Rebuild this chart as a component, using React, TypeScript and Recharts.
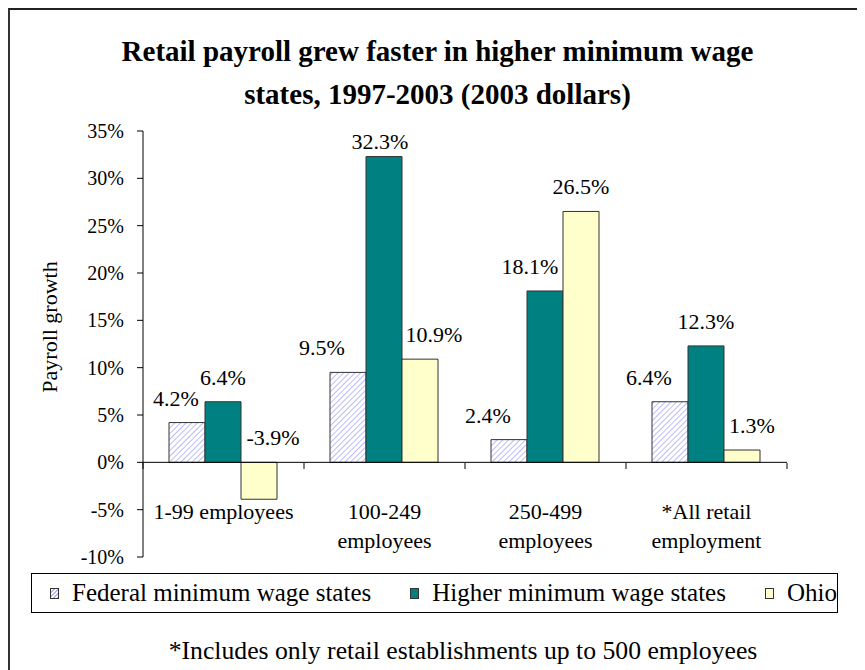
import React from 'react'
import { BarChart, Bar, XAxis, YAxis, ReferenceLine } from 'recharts'

const title = ['Retail payroll grew faster in higher minimum wage', 'states, 1997-2003 (2003 dollars)']
const categories = [['1-99 employees'], ['100-249', 'employees'], ['250-499', 'employees'], ['*All retail', 'employment']]
const federal = [4.2, 9.5, 2.4, 6.4]
const higher = [6.4, 32.3, 18.1, 12.3]
const ohio = [-3.9, 10.9, 26.5, 1.3]
const yTicks = [-10, -5, 0, 5, 10, 15, 20, 25, 30, 35]
const seriesNames = ['Federal minimum wage states', 'Higher minimum wage states', 'Ohio']
const yLabel = 'Payroll growth'
const footnote = '*Includes only retail establishments up to 500 employees'

const font = 'Liberation Serif, Times New Roman, Times, serif'
const teal = '#008080'
const cream = '#FFFFCC'
const hatch = '#b4b4f8'

// excel slides crowded labels sideways; horizontal nudge in px per bar
const federalNudge = [-11, -26, -21, -21]
const higherNudge = [0, -4, -15, 0]
const ohioNudge = [14, 14, 0, 10]

const data = categories.map((lines, i) => ({
  name: lines.join(' '),
  lines,
  federal: federal[i],
  higher: higher[i],
  ohio: ohio[i],
}))

const yMax = yTicks[yTicks.length - 1]

const makeLabel = (nudge: number[]) => (props: any) => {
  const vb = props.viewBox ?? props
  const { x, y, width, height } = vb
  const value = Number(props.value)
  const top = Math.min(y, y + height)
  let base = top - 17
  if (value > 0) {
    // keep label inside the plot, like excel does
    const ppu = Math.abs(height) / Math.abs(value)
    const zero = Math.max(y, y + height)
    const plotTop = zero - yMax * ppu
    base = Math.max(base, plotTop + 18)
  }
  const dx = nudge[props.index] ?? 0
  return (
    <text x={x + width / 2 + dx} y={base} textAnchor="middle" style={{ fontSize: 22, fontFamily: font }} fill="#000">
      {value.toFixed(1)}%
    </text>
  )
}

const CatTick = (props: any) => {
  const { x, y, payload, index } = props
  const row = data.find(d => d.name === payload.value)
  const lines = row ? row.lines : [payload.value]
  const half = payload.offset ?? 0
  const zeroY = y - 94
  return (
    <g>
      <line x1={x - half} x2={x - half} y1={zeroY} y2={zeroY + 6} stroke="#000" />
      {index === data.length - 1 && (
        <line x1={x + half} x2={x + half} y1={zeroY} y2={zeroY + 6} stroke="#000" />
      )}
      <text x={x} y={y - 38} textAnchor="middle" style={{ fontSize: 22, fontFamily: font }} fill="#000">
        {lines.map((l, i) => (
          <tspan key={i} x={x} dy={i === 0 ? 0 : 29}>{l}</tspan>
        ))}
      </text>
    </g>
  )
}

const swatch = (i: number) => {
  const base: React.CSSProperties = { width: 9, height: 11, border: '1px solid #333', display: 'inline-block', marginRight: 13, boxSizing: 'border-box', flex: 'none' }
  if (i === 0) return { ...base, background: `repeating-linear-gradient(135deg, #fff 0 1.5px, ${hatch} 1.5px 3px)` }
  if (i === 1) return { ...base, background: teal }
  return { ...base, background: cream }
}

export default function App() {
  return (
    <div style={{ position: 'relative', width: 855, height: 660, borderTop: '2px solid #222', borderLeft: '2px solid #333', fontFamily: font, color: '#000' }}>
      <div style={{ position: 'absolute', left: 0, top: 20, width: 855, textAlign: 'center', fontWeight: 'bold', fontSize: 29, lineHeight: '43px' }}>
        {title.map((t, i) => <div key={i}>{t}</div>)}
      </div>
      <div style={{ position: 'absolute', left: 40, top: 317, transform: 'translate(-50%, -50%) rotate(-90deg)', fontSize: 22, whiteSpace: 'nowrap' }}>
        {yLabel}
      </div>
      <div style={{ position: 'absolute', left: 0, top: 0 }}>
        <BarChart width={855} height={652} data={data} margin={{ top: 121, right: 78, left: 0, bottom: 75 }} barCategoryGap={26} barGap={0}>
          <defs>
            <pattern id="hatch" width="4" height="4" patternUnits="userSpaceOnUse" patternTransform="rotate(45)">
              <rect width="4" height="4" fill="#fff" />
              <line x1="0" y1="0" x2="0" y2="4" stroke={hatch} strokeWidth="1.8" />
            </pattern>
          </defs>
          <YAxis
            width={133}
            domain={[yTicks[0], yMax]}
            ticks={yTicks}
            interval={0}
            tickFormatter={(v: number) => `${v}%`}
            stroke="#000"
            tick={{ fill: '#000', fontSize: 20, fontFamily: font }}
            tickSize={6}
            tickMargin={13}
            allowDataOverflow
          />
          <XAxis dataKey="name" height={30} axisLine={false} tickLine={false} tickSize={0} tickMargin={0} interval={0} tick={<CatTick />} />
          <ReferenceLine y={0} stroke="#000" />
          <Bar dataKey="federal" name={seriesNames[0]} fill="url(#hatch)" stroke="#333" strokeWidth={1} isAnimationActive={false} label={makeLabel(federalNudge)} />
          <Bar dataKey="higher" name={seriesNames[1]} fill={teal} stroke="#333" strokeWidth={1} isAnimationActive={false} label={makeLabel(higherNudge)} />
          <Bar dataKey="ohio" name={seriesNames[2]} fill={cream} stroke="#333" strokeWidth={1} isAnimationActive={false} label={makeLabel(ohioNudge)} />
        </BarChart>
      </div>
      <div style={{ position: 'absolute', left: 21, top: 563, width: 807, height: 40, border: '1px solid #000', boxSizing: 'border-box', display: 'flex', alignItems: 'center', paddingLeft: 18, fontSize: 25, whiteSpace: 'nowrap' }}>
        {seriesNames.map((n, i) => (
          <div key={n} style={{ display: 'flex', alignItems: 'center', marginRight: 39 }}>
            <span style={swatch(i)} />
            <span>{n}</span>
          </div>
        ))}
      </div>
      <div style={{ position: 'absolute', left: 453, top: 628, transform: 'translateX(-50%)', whiteSpace: 'nowrap', fontSize: 25.7, lineHeight: '26px' }}>
        {footnote}
      </div>
    </div>
  )
}
